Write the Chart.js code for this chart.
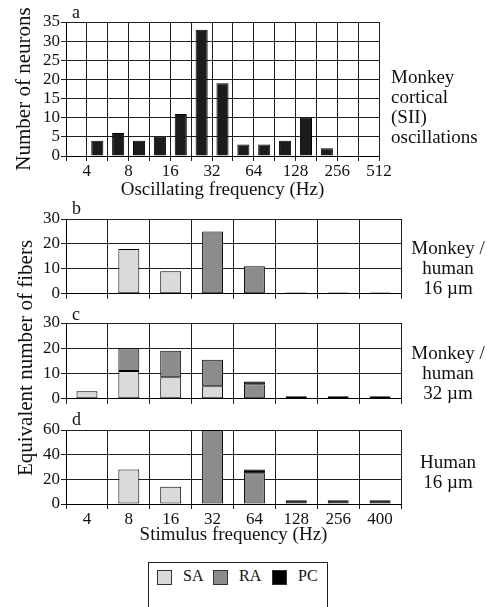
<!DOCTYPE html>
<html>
<head>
<meta charset="utf-8">
<script src="https://cdn.jsdelivr.net/npm/chart.js@4.4.1/dist/chart.umd.min.js"></script>
<style>
  html, body { margin: 0; padding: 0; background: #fff; }
  body { width: 487px; height: 607px; position: relative; overflow: hidden;
         font-family: "Liberation Serif", "Times New Roman", serif; color: #111; }
  canvas { position: absolute; left: 0; }
  .note { position: absolute; font-size: 19px; line-height: 20px; white-space: nowrap; }
  .center { text-align: center; width: 90px; }
  .letter { position: absolute; font-size: 18px; line-height: 18px; }
  .vtitle { position: absolute; width: 300px; text-align: center; font-size: 21px; line-height: 24px;
            transform: rotate(-90deg); transform-origin: 150px 12px; white-space: nowrap; }
  #legend { position: absolute; left: 148px; top: 562px; width: 178px; height: 60px; border: 1px solid #222; }
  .sw { position: absolute; top: 7px; width: 13px; height: 13px; border: 1px solid #333; }
  .lab { position: absolute; top: 4px; font-size: 16px; line-height: 18px; }
</style>
</head>
<body>
<canvas id="chartA" width="487" height="205" style="top:0px"></canvas>
<canvas id="chartB" width="487" height="105" style="top:200px"></canvas>
<canvas id="chartC" width="487" height="105" style="top:305px"></canvas>
<canvas id="chartD" width="487" height="142" style="top:410px"></canvas>

<div class="letter" style="left:72px;top:3px">a</div>
<div class="letter" style="left:72px;top:199px">b</div>
<div class="letter" style="left:72px;top:305px">c</div>
<div class="letter" style="left:72px;top:410px">d</div>

<div class="note" style="left:391px;top:67px">Monkey<br>cortical<br>(SII)<br>oscillations</div>
<div class="note center" style="left:403px;top:238px">Monkey /<br>human<br>16 µm</div>
<div class="note center" style="left:403px;top:343px">Monkey /<br>human<br>32 µm</div>
<div class="note center" style="left:403px;top:452px">Human<br>16 µm</div>

<div class="vtitle" style="left:-125px;top:346px">Equivalent number of fibers</div>

<div id="legend"></div>

<script>
// panel a: monkey cortical oscillations, half-octave bins
const oscTicks = ["4", "8", "16", "32", "64", "128", "256", "512"];
const neuronCounts = [0, 4, 6, 4, 5, 11, 33, 19, 3, 3, 4, 10, 2, 0, 0];

// panels b-d: stimulus frequencies and afferent types
const stimFreqs = ["4", "8", "16", "32", "64", "128", "256", "400"];
const seriesNames = ["SA", "RA", "PC"];
const seriesColors = ["#dadada", "#8c8c8c", "#000000"];

const b16SA = [0, 18, 9, 0, 0, 0, 0, 0];
const b16RA = [0, 0, 0, 25, 11, 0, 0, 0];
const b16PC = [0, 0, 0, 0, 0, 0.5, 0.5, 0.5];

const c32SA = [3, 11, 8.5, 5, 0, 0, 0, 0];
const c32RA = [0, 9, 10.5, 10.5, 5.8, 0, 0, 0];
const c32PC = [0, 0, 0, 0, 1, 1, 1, 1];

const dHumanSA = [0, 28, 14, 0, 0, 0, 0, 0];
const dHumanRA = [0, 0, 0, 60, 25, 0, 0, 0];
const dHumanPC = [0, 0, 0, 0, 3, 3, 3, 3];

const FONT = "'Liberation Serif', 'Times New Roman', serif";
Chart.defaults.font.family = FONT;
Chart.defaults.color = "#111";

const GRID = "#1e1e1e";
const tickFont = { family: FONT, size: 17 };
const titleFont = { family: FONT, size: 19 };

// Panel a
new Chart(document.getElementById("chartA"), {
    type: "bar",
    data: {
        datasets: [{
            data: neuronCounts.map((v, i) => ({ x: i + 0.5, y: v })),
            backgroundColor: "#1c1c1c",
            borderColor: "#000",
            borderWidth: ctx => (ctx.raw && ctx.raw.y ? 1 : 0),
            categoryPercentage: 1,
            barPercentage: 0.58
        }]
    },
    options: {
        responsive: false,
        animation: false,
        devicePixelRatio: 1,
        layout: { padding: { left: 0, right: 108, top: 22, bottom: 0 } },
        plugins: { legend: { display: false }, tooltip: { enabled: false } },
        scales: {
            x: {
                type: "linear",
                min: 0,
                max: 15,
                offset: false,
                grid: { offset: false, color: GRID, tickLength: 5 },
                border: { color: "#000" },
                ticks: {
                    stepSize: 1,
                    autoSkip: false,
                    maxRotation: 0,
                    padding: 0,
                    font: tickFont,
                    callback: v => (v % 2 === 1 ? oscTicks[(v - 1) / 2] : "")
                },
                title: { display: true, text: "Oscillating frequency (Hz)", font: titleFont,
                         padding: { top: 0, bottom: 4 } },
                afterFit: s => { s.height = 49; }
            },
            y: {
                min: 0,
                max: 35,
                grid: { color: GRID, tickLength: 5 },
                border: { color: "#000" },
                ticks: { stepSize: 5, autoSkip: false, padding: 1, font: tickFont },
                title: { display: true, text: "Number of neurons", font: { family: FONT, size: 21 },
                         padding: { top: 12, bottom: 0 } },
                afterFit: s => { s.width = 66; }
            }
        }
    }
});

// Panels b-d share one layout
function stackPanel(id, sa, ra, pc, yMax, yStep, topPad, xHeight, showX) {
    const values = [sa, ra, pc];
    return new Chart(document.getElementById(id), {
        type: "bar",
        data: {
            labels: stimFreqs,
            datasets: seriesNames.map((name, k) => ({
                label: name,
                data: values[k],
                backgroundColor: seriesColors[k],
                borderColor: "#000",
                borderWidth: ctx => (ctx.raw ? 1 : 0),
                borderSkipped: false,
                categoryPercentage: 1,
                barPercentage: 0.5
            }))
        },
        options: {
            responsive: false,
            animation: false,
            devicePixelRatio: 1,
            layout: { padding: { left: 0, right: 86, top: topPad, bottom: 0 } },
            plugins: { legend: { display: false }, tooltip: { enabled: false } },
            scales: {
                x: {
                    stacked: true,
                    grid: { color: GRID, tickLength: 5 },
                    border: { color: "#000" },
                    ticks: { display: showX, padding: 0, maxRotation: 0, autoSkip: false, font: tickFont },
                    title: { display: showX, text: "Stimulus frequency (Hz)", font: titleFont,
                             padding: { top: 0, bottom: 6 } },
                    afterFit: s => { s.height = xHeight; }
                },
                y: {
                    stacked: true,
                    min: 0,
                    max: yMax,
                    grid: { color: GRID, tickLength: 5 },
                    border: { color: "#000" },
                    ticks: { stepSize: yStep, autoSkip: false, padding: 1, font: tickFont },
                    afterFit: s => { s.width = 66; }
                }
            }
        }
    });
}

stackPanel("chartB", b16SA, b16RA, b16PC, 30, 10, 19, 9, false);
stackPanel("chartC", c32SA, c32RA, c32PC, 30, 10, 18, 9, false);
stackPanel("chartD", dHumanSA, dHumanRA, dHumanPC, 60, 20, 20, 48, true);

// legend box
const legend = document.getElementById("legend");
const swatchX = [8, 64, 123];
seriesNames.forEach((name, k) => {
    const sw = document.createElement("div");
    sw.className = "sw";
    sw.style.left = swatchX[k] + "px";
    sw.style.background = seriesColors[k];
    legend.appendChild(sw);
    const lab = document.createElement("div");
    lab.className = "lab";
    lab.style.left = (swatchX[k] + 26) + "px";
    lab.textContent = name;
    legend.appendChild(lab);
});
</script>
</body>
</html>
